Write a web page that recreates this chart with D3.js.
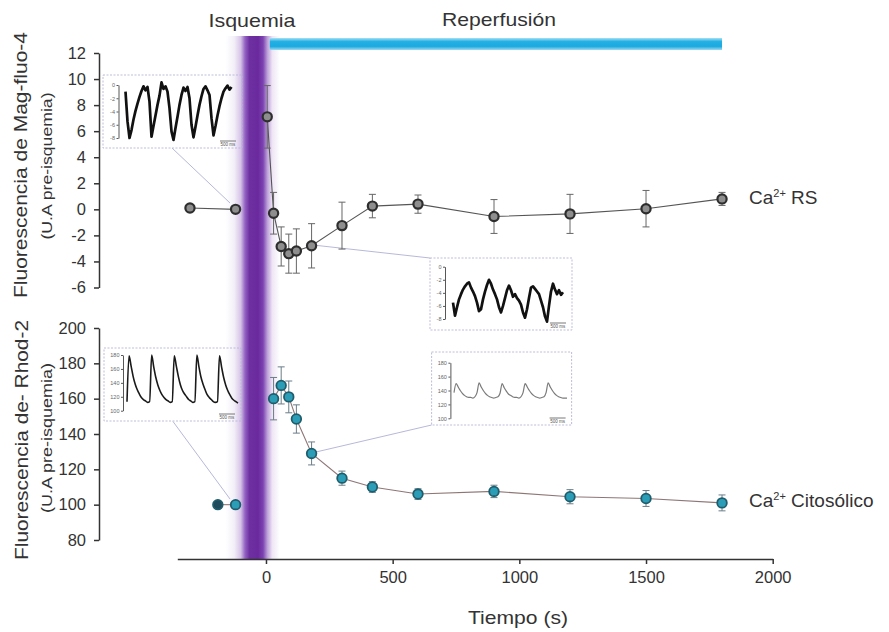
<!DOCTYPE html>
<html>
<head>
<meta charset="utf-8">
<script src="https://cdn.jsdelivr.net/npm/d3@7"></script>
<style>
  body { margin: 0; background: #fff; }
  svg { display: block; }
</style>
</head>
<body>
<div id="chart"></div>
<script>
// Ca2+ RS (Mag-fluo-4), tiempo en s
var timeRS = [-300, -120, 5, 30, 60, 90, 120, 180, 300, 420, 600, 900, 1200, 1500, 1800];
var meanRS = [0.1, 0, 7.1, -0.3, -2.85, -3.4, -3.2, -2.8, -1.25, 0.25, 0.4, -0.55, -0.35, 0.05, 0.8];
var errRS  = [0.2, 0.2, 2.4, 1.6, 1.5, 1.5, 1.7, 1.7, 1.8, 0.9, 0.7, 1.3, 1.5, 1.4, 0.5];

// Ca2+ citosolico (Rhod-2)
var timeCyt = [-190, -120, 30, 60, 90, 120, 180, 300, 420, 600, 900, 1200, 1500, 1800];
var meanCyt = [100, 100, 160, 167.5, 161, 148.5, 129, 115, 110, 106, 107.5, 104.5, 103.5, 101];
var errCyt  = [0.5, 0.5, 12, 10.5, 9, 8, 6.5, 4, 3, 3, 3.5, 4, 4.5, 4.5];

var xTicks = [0, 500, 1000, 1500, 2000];
var rsTicks = [12, 10, 8, 6, 4, 2, 0, -2, -4, -6];
var cytTicks = [200, 180, 160, 140, 120, 100, 80];

var ischemia = [-160, 55];
var reperfusion = [15, 1800];

// registros de los recuadros
var magPre = [-1.0, -5.5, -8.0, -6.8, -5.2, -3.9, -2.8, -1.8, -0.9, -0.2, -0.8, -0.3, -2.5, -7.8,
  -6.2, -4.6, -3.0, -1.6, 0.4, -0.6, -0.2, -1.0, -3.5, -7.0, -8.3, -6.5, -4.8, -3.0, -1.5, -0.4,
  -0.9, -0.3, -2.0, -6.0, -7.9, -6.3, -4.6, -3.0, -1.7, -0.6, -0.2, -0.8, -1.5, -5.0, -7.6, -6.2,
  -4.6, -3.2, -2.0, -1.0, -0.5, -0.1, -0.7, -0.3];
var magPost = [-5.5, -7.5, -6.2, -5.0, -4.2, -3.5, -3.0, -2.6, -2.4, -3.2, -3.8, -4.5, -5.5, -6.8,
  -6.5, -5.0, -3.8, -2.8, -2.0, -2.6, -3.5, -4.2, -5.0, -6.2, -7.0, -6.0, -4.8, -3.6, -2.9, -3.6,
  -4.6, -4.2, -4.8, -5.2, -5.8, -7.0, -7.8, -6.5, -4.8, -3.2, -3.0, -3.4, -3.8, -4.2, -5.2, -6.2,
  -7.6, -8.4, -6.0, -3.8, -2.6, -3.5, -4.2, -3.6, -4.3, -3.9];
var rhodPre = [113, 179, 164, 149, 138, 130, 124, 119, 116, 114, 112,
  113, 180, 163, 148, 137, 129, 123, 119, 116, 114, 112,
  113, 179, 164, 149, 137, 129, 124, 120, 116, 114, 112,
  113, 180, 163, 148, 138, 130, 123, 119, 116, 113, 112,
  113, 179, 163, 148, 137, 129, 123, 118, 115, 113, 111];
var rhodPost = [137, 150, 145, 140, 136, 133, 131, 130, 130, 129, 131,
  137, 151, 145, 140, 136, 133, 131, 130, 129, 130, 131,
  136, 150, 144, 139, 135, 133, 131, 130, 130, 129, 131,
  137, 150, 145, 140, 136, 133, 131, 130, 129, 130, 131,
  137, 151, 145, 140, 136, 133, 131, 130, 129, 129, 129];

var font = '"Liberation Sans", Arial, Helvetica, sans-serif';
var ink = "#333";

var svg = d3.select("#chart").append("svg")
  .attr("width", 889).attr("height", 632)
  .style("font-family", font);

var defs = svg.append("defs");

var x = d3.scaleLinear().domain([-350, 2000]).range([177.3, 772.7]);
var yRS = d3.scaleLinear().domain([-6, 12]).range([287.5, 53]);
var yCyt = d3.scaleLinear().domain([80, 200]).range([540, 328]);

// banda de isquemia
var bandGrad = defs.append("linearGradient").attr("id", "band").attr("x1", 0).attr("x2", 1).attr("y1", 0).attr("y2", 0);
[[0, "#ffffff"], [0.16, "#f3eff8"], [0.28, "#d6c4e8"], [0.36, "#9262c2"], [0.44, "#6e30a1"],
 [0.6, "#6a2a9e"], [0.69, "#7c42b1"], [0.77, "#bda0d9"], [0.86, "#eee6f5"], [1, "#ffffff"]]
  .forEach(function(s) { bandGrad.append("stop").attr("offset", s[0]).attr("stop-color", s[1]); });

svg.append("rect")
  .attr("x", x(ischemia[0])).attr("width", x(ischemia[1]) - x(ischemia[0]))
  .attr("y", 36).attr("height", 559 - 36)
  .attr("fill", "url(#band)");

var barGrad = defs.append("linearGradient").attr("id", "bar").attr("x1", 0).attr("x2", 0).attr("y1", 0).attr("y2", 1);
[[0, "#a8e0f4"], [0.3, "#22b0e4"], [0.7, "#1ca9e0"], [1, "#9fd9f0"]]
  .forEach(function(s) { barGrad.append("stop").attr("offset", s[0]).attr("stop-color", s[1]); });

svg.append("rect")
  .attr("x", x(reperfusion[0])).attr("width", x(reperfusion[1]) - x(reperfusion[0]))
  .attr("y", 38).attr("height", 12)
  .attr("fill", "url(#bar)");

svg.append("text").attr("x", 252).attr("y", 27).attr("text-anchor", "middle")
  .attr("font-size", 19).attr("fill", ink).attr("textLength", 87).attr("lengthAdjust", "spacingAndGlyphs")
  .text("Isquemia");
svg.append("text").attr("x", 499).attr("y", 25.5).attr("text-anchor", "middle")
  .attr("font-size", 19).attr("fill", ink).attr("textLength", 114).attr("lengthAdjust", "spacingAndGlyphs")
  .text("Reperfusión");

// recuadros
function drawInset(cfg, values) {
  var g = svg.append("g");
  g.append("line")
    .attr("x1", cfg.link[0]).attr("y1", cfg.link[1]).attr("x2", cfg.link[2]).attr("y2", cfg.link[3])
    .attr("stroke", "#aeb0d4").attr("stroke-width", 0.9);
  g.append("rect").attr("x", cfg.x).attr("y", cfg.y).attr("width", cfg.w).attr("height", cfg.h)
    .attr("fill", "none").attr("stroke", "#b5b5d6").attr("stroke-width", 0.9).attr("stroke-dasharray", "2,1.5");
  var ys = d3.scaleLinear().domain(cfg.domain).range(cfg.yr);
  var xs = d3.scaleLinear().domain([0, values.length - 1]).range(cfg.xr);
  var ax = g.append("g").attr("transform", "translate(" + cfg.ax + ",0)")
    .call(d3.axisLeft(ys).tickValues(cfg.ticks).tickSize(2).tickSizeOuter(0).tickPadding(1.5)
      .tickFormat(function(d) { return String(d); }));
  ax.selectAll("path,line").attr("stroke", "#444").attr("stroke-width", 0.9);
  ax.selectAll("text").attr("font-size", 5.5).attr("fill", "#666").style("font-family", font);
  g.append("path").datum(values)
    .attr("d", d3.line().x(function(d, i) { return xs(i); }).y(function(d) { return ys(d); }).curve(cfg.curve))
    .attr("fill", "none").attr("stroke", cfg.color).attr("stroke-width", cfg.sw).attr("stroke-linejoin", "round");
  var sx = cfg.x + cfg.w - 22;
  var sy = cfg.y + cfg.h - 7;
  g.append("line").attr("x1", sx).attr("x2", sx + 16).attr("y1", sy).attr("y2", sy)
    .attr("stroke", "#555").attr("stroke-width", 0.8);
  g.append("text").attr("x", sx + 8).attr("y", sy + 5).attr("text-anchor", "middle")
    .attr("font-size", 4.5).attr("fill", "#555").text("500 ms");
}

drawInset({ x: 103, y: 75, w: 139, h: 73, ax: 118.5, domain: [-8, 0], yr: [138, 85],
  ticks: [0, -2, -4, -6, -8], xr: [125.5, 231.5], curve: d3.curveLinear, color: "#111", sw: 2.7,
  link: [172, 148, 230, 203] }, magPre);
drawInset({ x: 430, y: 258, w: 142, h: 72, ax: 445, domain: [-8, 0], yr: [319, 266.7],
  ticks: [0, -2, -4, -6, -8], xr: [453, 563], curve: d3.curveLinear, color: "#111", sw: 2.7,
  link: [313, 245, 430, 258] }, magPost);
drawInset({ x: 104, y: 348, w: 137, h: 73, ax: 123, domain: [100, 180], yr: [410.7, 355],
  ticks: [180, 160, 140, 120, 100], xr: [127, 238], curve: d3.curveMonotoneX, color: "#1a1a1a", sw: 1.6,
  link: [173, 421.5, 230, 499] }, rhodPre);
drawInset({ x: 431.6, y: 352, w: 140, h: 73, ax: 450.4, domain: [100, 180], yr: [418.3, 362.7],
  ticks: [180, 160, 140, 120, 100], xr: [454, 567], curve: d3.curveMonotoneX, color: "#7a7a7a", sw: 1.2,
  link: [313, 452.7, 431.6, 425] }, rhodPost);

// ejes
function styleAxis(g) {
  g.selectAll("path,line").attr("stroke", ink).attr("stroke-width", 1.5);
  g.selectAll("text").attr("font-size", 16.5).attr("fill", ink).style("font-family", font);
}

svg.append("g").attr("transform", "translate(0,559)")
  .call(d3.axisBottom(x).tickValues(xTicks).tickSize(5).tickSizeOuter(0).tickPadding(7)
    .tickFormat(function(d) { return String(d); }))
  .call(styleAxis);

svg.append("g").attr("transform", "translate(99,0)")
  .call(d3.axisLeft(yRS).tickValues(rsTicks).tickSize(5).tickSizeOuter(0).tickPadding(8)
    .tickFormat(function(d) { return String(d); }))
  .call(styleAxis);

svg.append("g").attr("transform", "translate(99,0)")
  .call(d3.axisLeft(yCyt).tickValues(cytTicks).tickSize(5).tickSizeOuter(0).tickPadding(8)
    .tickFormat(function(d) { return String(d); }))
  .call(styleAxis);

// titulos de ejes
function yLabel(tx, ty, size, len, txt) {
  svg.append("text").attr("transform", "translate(" + tx + "," + ty + ") rotate(-90)")
    .attr("text-anchor", "middle").attr("font-size", size).attr("fill", ink)
    .attr("textLength", len).attr("lengthAdjust", "spacingAndGlyphs").text(txt);
}
yLabel(27, 165, 18, 266, "Fluorescencia de Mag-fluo-4");
yLabel(52, 166, 14, 147, "(U.A pre-isquemia)");
yLabel(28, 440, 18, 240, "Fluorescencia de- Rhod-2");
yLabel(52, 438, 14, 150, "(U.A pre-isquemia)");

svg.append("text").attr("x", 518).attr("y", 623.5).attr("text-anchor", "middle")
  .attr("font-size", 19).attr("fill", ink).attr("textLength", 100).attr("lengthAdjust", "spacingAndGlyphs")
  .text("Tiempo (s)");

// series
function drawSeries(times, means, errs, y, opt) {
  var pts = times.map(function(t, i) { return { t: t, m: means[i], e: errs[i], i: i }; });
  var line = d3.line().x(function(d) { return x(d.t); }).y(function(d) { return y(d.m); });
  [pts.filter(function(d) { return d.t < 0; }), pts.filter(function(d) { return d.t > 0; })]
    .forEach(function(seg) {
      svg.append("path").datum(seg).attr("d", line)
        .attr("fill", "none").attr("stroke", opt.line).attr("stroke-width", 1.1);
    });
  var eb = svg.append("g").selectAll("g").data(pts).join("g")
    .attr("stroke", opt.err).attr("stroke-width", 1);
  eb.append("line").attr("x1", function(d) { return x(d.t); }).attr("x2", function(d) { return x(d.t); })
    .attr("y1", function(d) { return y(d.m - d.e); }).attr("y2", function(d) { return y(d.m + d.e); });
  eb.append("line").attr("x1", function(d) { return x(d.t) - 3.5; }).attr("x2", function(d) { return x(d.t) + 3.5; })
    .attr("y1", function(d) { return y(d.m + d.e); }).attr("y2", function(d) { return y(d.m + d.e); });
  eb.append("line").attr("x1", function(d) { return x(d.t) - 3.5; }).attr("x2", function(d) { return x(d.t) + 3.5; })
    .attr("y1", function(d) { return y(d.m - d.e); }).attr("y2", function(d) { return y(d.m - d.e); });
  svg.append("g").selectAll("circle").data(pts).join("circle")
    .attr("cx", function(d) { return x(d.t); }).attr("cy", function(d) { return y(d.m); })
    .attr("r", opt.r)
    .attr("fill", function(d) { return d.i === 0 ? opt.first : opt.fill; })
    .attr("stroke", opt.stroke).attr("stroke-width", opt.sw);
}

drawSeries(timeRS, meanRS, errRS, yRS,
  { line: "#555", err: "#666", r: 4.6, fill: "#8e8e8e", first: "#8e8e8e", stroke: "#2e2e2e", sw: 2.2 });
drawSeries(timeCyt, meanCyt, errCyt, yCyt,
  { line: "#8f7676", err: "#6b7d88", r: 4.8, fill: "#2c9db6", first: "#1f4b5c", stroke: "#1f5d6c", sw: 1.8 });

// leyendas
function legend(ty, main, rest) {
  var t = svg.append("text").attr("x", 749).attr("y", ty).attr("font-size", 19).attr("fill", ink);
  t.append("tspan").text(main);
  t.append("tspan").attr("font-size", 11).attr("dy", -7).text("2+");
  t.append("tspan").attr("dy", 7).text(rest);
}
legend(204, "Ca", " RS");
legend(507, "Ca", " Citosólico");
</script>
</body>
</html>
